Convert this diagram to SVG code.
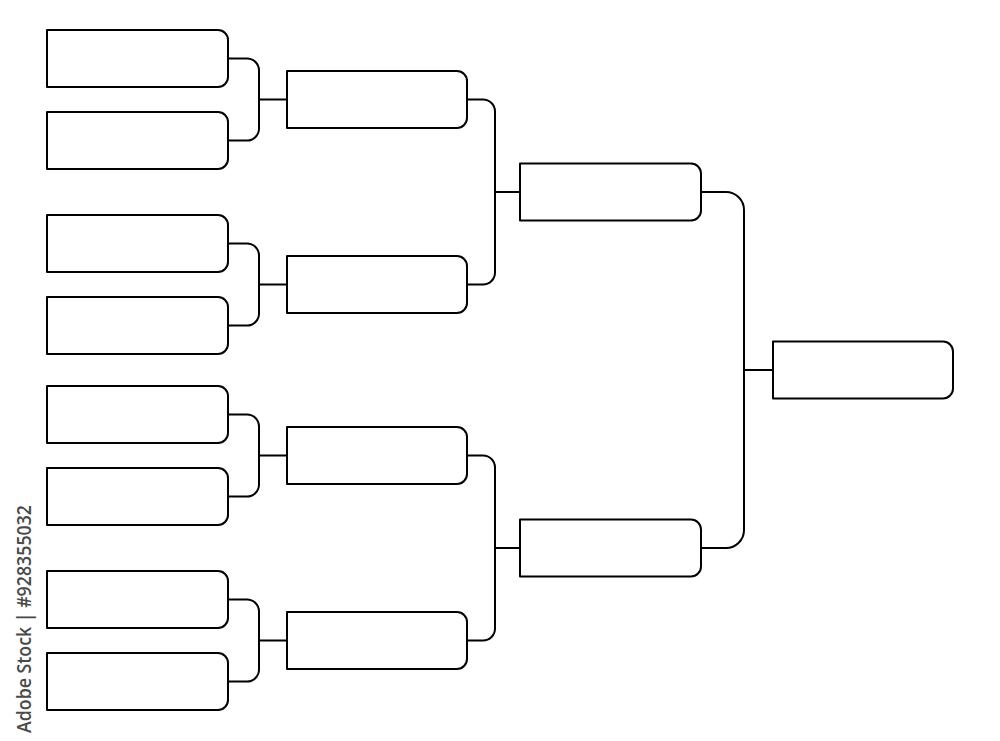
<svg xmlns="http://www.w3.org/2000/svg" width="1000" height="741" viewBox="0 0 1000 741">
<style>
.box{fill:#fff;stroke:#000;stroke-width:2;stroke-linejoin:round}
.con{fill:none;stroke:#000;stroke-width:2;stroke-linejoin:round}
.wm{font-family:"Open Sans","Liberation Sans",Arial,sans-serif;font-size:19px;font-weight:600;fill:#4a4a4a}
</style>
<rect width="1000" height="741" fill="#fff"/>
<g id="connectors">
<path class="con" d="M228,58.5 H247 A12,12 0 0 1 259,70.5 V128.5 A12,12 0 0 1 247,140.5 H228 M259,99.5 H287"/>
<path class="con" d="M228,243.5 H247 A12,12 0 0 1 259,255.5 V313.5 A12,12 0 0 1 247,325.5 H228 M259,284.5 H287"/>
<path class="con" d="M228,414.5 H247 A12,12 0 0 1 259,426.5 V484.5 A12,12 0 0 1 247,496.5 H228 M259,455.5 H287"/>
<path class="con" d="M228,599.5 H247 A12,12 0 0 1 259,611.5 V669.5 A12,12 0 0 1 247,681.5 H228 M259,640.5 H287"/>
<path class="con" d="M467,99.5 H483 A12,12 0 0 1 495,111.5 V272.5 A12,12 0 0 1 483,284.5 H467 M495,192 H520"/>
<path class="con" d="M467,455.5 H483 A12,12 0 0 1 495,467.5 V628.5 A12,12 0 0 1 483,640.5 H467 M495,548 H520"/>
<path class="con" d="M701,192 H726 A18,18 0 0 1 744,210 V530 A18,18 0 0 1 726,548 H701 M744,370 H773"/>
</g>
<g id="r1-1"><path class="box" d="M47,30 H218 A10,10 0 0 1 228,40 V77 A10,10 0 0 1 218,87 H47 Z"/></g>
<g id="r1-2"><path class="box" d="M47,112 H218 A10,10 0 0 1 228,122 V159 A10,10 0 0 1 218,169 H47 Z"/></g>
<g id="r1-3"><path class="box" d="M47,215 H218 A10,10 0 0 1 228,225 V262 A10,10 0 0 1 218,272 H47 Z"/></g>
<g id="r1-4"><path class="box" d="M47,297 H218 A10,10 0 0 1 228,307 V344 A10,10 0 0 1 218,354 H47 Z"/></g>
<g id="r1-5"><path class="box" d="M47,386 H218 A10,10 0 0 1 228,396 V433 A10,10 0 0 1 218,443 H47 Z"/></g>
<g id="r1-6"><path class="box" d="M47,468 H218 A10,10 0 0 1 228,478 V515 A10,10 0 0 1 218,525 H47 Z"/></g>
<g id="r1-7"><path class="box" d="M47,571 H218 A10,10 0 0 1 228,581 V618 A10,10 0 0 1 218,628 H47 Z"/></g>
<g id="r1-8"><path class="box" d="M47,653 H218 A10,10 0 0 1 228,663 V700 A10,10 0 0 1 218,710 H47 Z"/></g>
<g id="r2-1"><path class="box" d="M287,71 H457 A10,10 0 0 1 467,81 V118 A10,10 0 0 1 457,128 H287 Z"/></g>
<g id="r2-2"><path class="box" d="M287,256 H457 A10,10 0 0 1 467,266 V303 A10,10 0 0 1 457,313 H287 Z"/></g>
<g id="r2-3"><path class="box" d="M287,427 H457 A10,10 0 0 1 467,437 V474 A10,10 0 0 1 457,484 H287 Z"/></g>
<g id="r2-4"><path class="box" d="M287,612 H457 A10,10 0 0 1 467,622 V659 A10,10 0 0 1 457,669 H287 Z"/></g>
<g id="r3-1"><path class="box" d="M520,163.5 H691 A10,10 0 0 1 701,173.5 V210.5 A10,10 0 0 1 691,220.5 H520 Z"/></g>
<g id="r3-2"><path class="box" d="M520,519.5 H691 A10,10 0 0 1 701,529.5 V566.5 A10,10 0 0 1 691,576.5 H520 Z"/></g>
<g id="final"><path class="box" d="M773,341.5 H943 A10,10 0 0 1 953,351.5 V388.5 A10,10 0 0 1 943,398.5 H773 Z"/></g>
<text class="wm" transform="translate(31,733) rotate(-90)" x="0" y="0" textLength="228" lengthAdjust="spacingAndGlyphs">Adobe Stock | #928355032</text>
</svg>
